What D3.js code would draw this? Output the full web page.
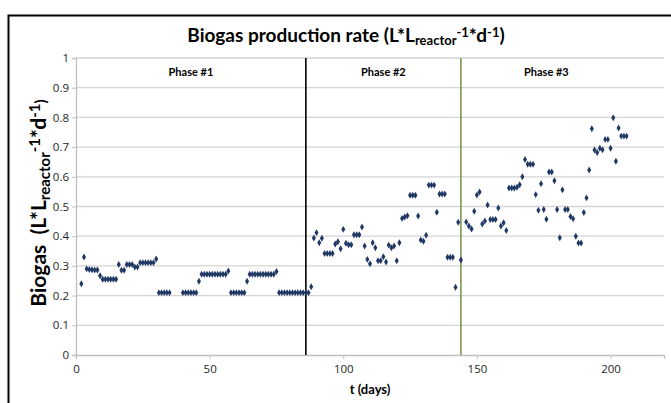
<!DOCTYPE html>
<html>
<head>
<meta charset="utf-8">
<script src="https://cdn.jsdelivr.net/npm/d3@7"></script>
<style>
  body { margin: 0; background: #fff; }
  svg { display: block; font-family: Lato, "Open Sans", sans-serif; }
</style>
</head>
<body>
<div id="chart"></div>
<script>
// measured days and biogas rate (L/Lreactor/d)
var days = [2, 3, 4, 5, 6, 7, 8, 9, 10, 11, 12, 13, 14, 15, 16, 17, 18, 19, 20, 21, 22, 23,
  24, 25, 26, 27, 28, 29, 30, 31, 32, 33, 34, 35,
  40, 41, 42, 43, 44, 45, 46, 47, 48, 49, 50, 51, 52, 53, 54, 55, 56, 57,
  58, 59, 60, 61, 62, 63, 64, 65, 66, 67, 68, 69, 70, 71, 72, 73, 74, 75,
  76, 77, 78, 79, 80, 81, 82, 83, 84, 85, 86, 87, 88, 89, 90, 91, 92, 93, 94, 95, 96,
  97, 98, 99, 100, 101, 102, 103, 104, 105, 106, 107, 108, 109, 110, 111, 112, 113, 114,
  115, 116, 117, 118, 119, 120, 121, 122, 123, 124, 125, 126, 127, 128, 129, 130, 131,
  132, 133, 134, 135, 136, 137, 138, 139, 140, 141, 142, 143, 144,
  146, 147, 148, 149, 150, 151, 152, 153, 154, 155, 156, 157, 158, 159, 160, 161,
  162, 163, 164, 165, 166, 167, 168, 169, 170, 171, 172, 173, 174, 175, 176, 177, 178,
  179, 180, 181, 182, 183, 184, 185, 186, 187, 188, 189, 190, 191, 192, 193, 194, 195,
  196, 197, 198, 199, 200, 201, 202, 203, 204, 205, 206];
var rate = [0.24, 0.33, 0.29, 0.288, 0.287, 0.286, 0.286, 0.267, 0.255, 0.255, 0.255, 0.255, 0.255, 0.255, 0.305, 0.285, 0.285, 0.305, 0.305, 0.305, 0.296, 0.296,
  0.311, 0.311, 0.311, 0.311, 0.311, 0.311, 0.323, 0.21, 0.21, 0.21, 0.21, 0.21,
  0.21, 0.21, 0.21, 0.21, 0.21, 0.21, 0.248, 0.272, 0.272, 0.272, 0.272, 0.272, 0.272, 0.272, 0.272, 0.272, 0.272, 0.283,
  0.21, 0.21, 0.21, 0.21, 0.21, 0.21, 0.248, 0.272, 0.272, 0.272, 0.272, 0.272, 0.272, 0.272, 0.272, 0.272, 0.272, 0.281,
  0.21, 0.21, 0.21, 0.21, 0.21, 0.21, 0.21, 0.21, 0.21, 0.21, 0.21, 0.21, 0.23, 0.394, 0.412, 0.378, 0.393, 0.342, 0.342, 0.342, 0.342,
  0.374, 0.381, 0.358, 0.423, 0.376, 0.371, 0.371, 0.405, 0.405, 0.405, 0.431, 0.367, 0.322, 0.307, 0.378, 0.361, 0.317, 0.317,
  0.331, 0.313, 0.37, 0.361, 0.367, 0.317, 0.378, 0.46, 0.465, 0.469, 0.538, 0.538, 0.538, 0.468, 0.387, 0.383, 0.403,
  0.572, 0.572, 0.572, 0.481, 0.542, 0.542, 0.542, 0.329, 0.329, 0.329, 0.228, 0.447, 0.32,
  0.448, 0.434, 0.424, 0.484, 0.539, 0.549, 0.441, 0.451, 0.505, 0.456, 0.456, 0.456, 0.495, 0.434, 0.445, 0.419,
  0.562, 0.562, 0.562, 0.565, 0.573, 0.6, 0.658, 0.642, 0.642, 0.642, 0.54, 0.487, 0.577, 0.49, 0.457, 0.616, 0.616,
  0.587, 0.49, 0.395, 0.556, 0.49, 0.49, 0.466, 0.459, 0.4, 0.377, 0.377, 0.48, 0.529, 0.623, 0.762, 0.69, 0.682,
  0.696, 0.691, 0.726, 0.726, 0.696, 0.799, 0.652, 0.764, 0.737, 0.737, 0.737];

var phaseNames = ['Phase #1', 'Phase #2', 'Phase #3'];
var phaseStarts = [0, 86, 144];
var phaseEnds = [86, 144, 208];
var phaseLineColors = ['#000000', '#7f9454'];
var xTicks = [0, 50, 100, 150, 200];
var yTicks = [0, 0.1, 0.2, 0.3, 0.4, 0.5, 0.6, 0.7, 0.8, 0.9, 1];

var width = 671, height = 403;
var plotLeft = 76, plotRight = 664, plotTop = 58, plotBottom = 355;

var svg = d3.select('#chart').append('svg')
  .attr('width', width)
  .attr('height', height);

// chart border
svg.append('rect')
  .attr('x', 8.5).attr('y', 15.5)
  .attr('width', 680).attr('height', 400)
  .attr('fill', 'none')
  .attr('stroke', '#000')
  .attr('stroke-width', 2);

var x = d3.scaleLinear().domain([0, 220]).range([plotLeft, plotRight]);
var y = d3.scaleLinear().domain([0, 1]).range([plotBottom, plotTop]);

// gridlines
svg.append('g').selectAll('line')
  .data(yTicks.slice(1)).enter().append('line')
  .attr('x1', plotLeft).attr('x2', plotRight)
  .attr('y1', function(d) { return y(d); })
  .attr('y2', function(d) { return y(d); })
  .attr('stroke', '#d4d4d4')
  .attr('stroke-width', 1.3);

var yAxis = svg.append('g')
  .attr('transform', 'translate(' + plotLeft + ',0)')
  .call(d3.axisLeft(y).tickValues(yTicks).tickSize(4).tickPadding(3)
    .tickFormat(function(d) { return d3.format('~g')(d); }));
var xAxis = svg.append('g')
  .attr('transform', 'translate(0,' + plotBottom + ')')
  .call(d3.axisBottom(x).tickValues(xTicks).tickSize(4).tickPadding(6));

[yAxis, xAxis].forEach(function(ax) {
  ax.select('.domain').attr('stroke', '#bfbfbf').attr('stroke-width', 1.3);
  ax.selectAll('.tick line').attr('stroke', '#bfbfbf');
  ax.selectAll('.tick text')
    .attr('fill', '#262626')
    .style('font-size', '11.5px')
    .style('font-family', '"Open Sans", sans-serif');
});

// phase separators
svg.append('g').selectAll('line')
  .data(phaseStarts.slice(1)).enter().append('line')
  .attr('x1', function(d) { return x(d); })
  .attr('x2', function(d) { return x(d); })
  .attr('y1', y(1)).attr('y2', y(0))
  .attr('stroke', function(d, i) { return phaseLineColors[i]; })
  .attr('stroke-width', 1.6);

svg.append('g').selectAll('text')
  .data(phaseNames).enter().append('text')
  .attr('x', function(d, i) { return x((phaseStarts[i] + phaseEnds[i]) / 2); })
  .attr('y', 76)
  .attr('text-anchor', 'middle')
  .style('font-size', '11px')
  .style('font-weight', 'bold')
  .text(function(d) { return d; });

// points
var pts = days.map(function(d, i) { return [d, rate[i]]; });
svg.append('g').selectAll('path')
  .data(pts).enter().append('path')
  .attr('transform', function(d) { return 'translate(' + x(d[0]) + ',' + y(d[1]) + ')'; })
  .attr('d', d3.symbol().type(d3.symbolDiamond).size(14))
  .attr('fill', '#1f3864');

// title
var title = svg.append('text')
  .attr('x', 346).attr('y', 42)
  .attr('text-anchor', 'middle')
  .style('font-size', '19px')
  .style('font-weight', 'bold');
title.append('tspan').text('Biogas production rate (L*L');
title.append('tspan').attr('baseline-shift', '-25%').style('font-size', '13px').text('reactor');
title.append('tspan').attr('baseline-shift', '40%').style('font-size', '13px').text('-1');
title.append('tspan').text('*d');
title.append('tspan').attr('baseline-shift', '40%').style('font-size', '13px').text('-1');
title.append('tspan').text(')');

// y title
var yt = svg.append('text')
  .attr('transform', 'translate(46,' + 203 + ') rotate(-90)')
  .attr('text-anchor', 'middle')
  .style('font-size', '21px')
  .style('font-weight', 'bold');
yt.append('tspan').text('Biogas\u00a0\u00a0(L*L');
yt.append('tspan').attr('baseline-shift', '-25%').style('font-size', '15px').text('reactor');
yt.append('tspan').attr('baseline-shift', '40%').style('font-size', '15px').text('-1');
yt.append('tspan').text('*d');
yt.append('tspan').attr('baseline-shift', '40%').style('font-size', '15px').text('-1');
yt.append('tspan').style('font-size', '15px').text(')');

// x title
svg.append('text')
  .attr('x', x(110)).attr('y', 394)
  .attr('text-anchor', 'middle')
  .style('font-size', '13px')
  .style('font-weight', 'bold')
  .text('t (days)');
</script>
</body>
</html>
